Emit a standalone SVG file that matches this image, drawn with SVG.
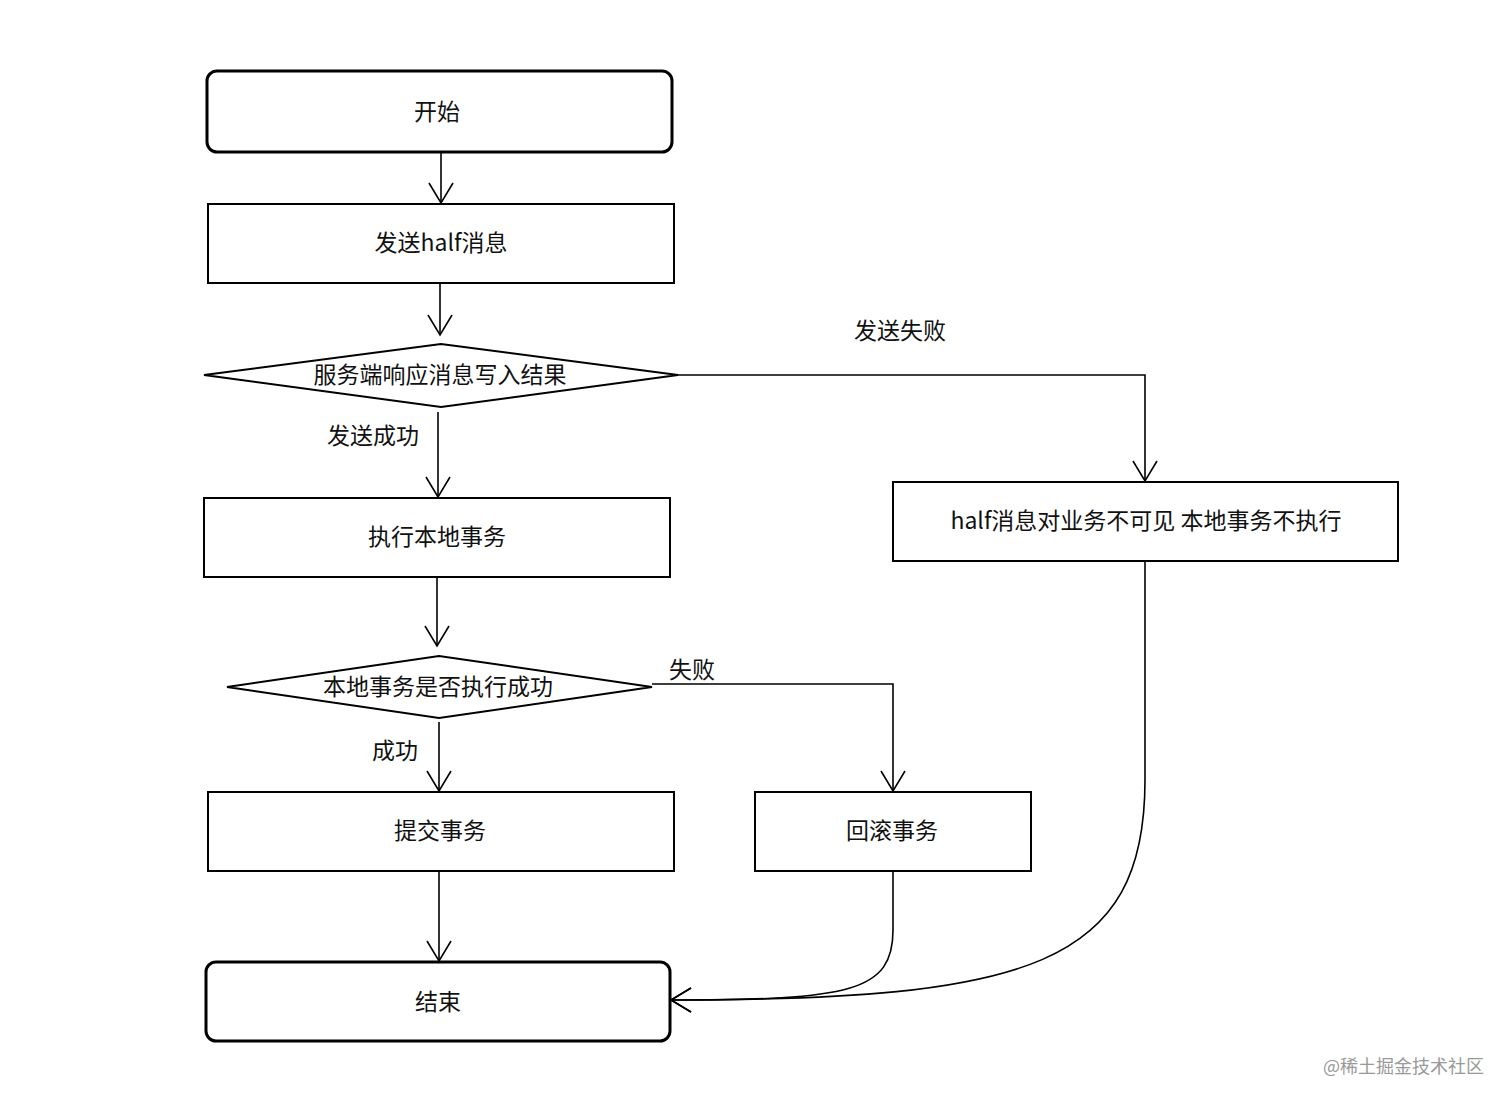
<svg xmlns="http://www.w3.org/2000/svg" width="1512" height="1103" viewBox="0 0 1512 1103">
<style>
.box{fill:#fff;stroke:#000;stroke-width:2}
.term{fill:#fff;stroke:#000;stroke-width:3}
.t{font-family:"Noto Sans CJK SC","Liberation Sans",sans-serif;font-size:23px;fill:#111;text-anchor:middle;dominant-baseline:central}
.lbl{font-family:"Noto Sans CJK SC","Liberation Sans",sans-serif;font-size:23px;fill:#111;text-anchor:middle;dominant-baseline:central}
.c{fill:none;stroke:#000;stroke-width:1.6}
.wm{font-family:"Noto Sans CJK SC",sans-serif;font-size:18px;fill:#999;dominant-baseline:central}
</style>
<defs>
<marker id="arr" markerUnits="userSpaceOnUse" markerWidth="30" markerHeight="30" viewBox="-24 -15 30 30" refX="0" refY="0" orient="auto" overflow="visible">
<path d="M-20,-12 L0,0 L-20,12" fill="none" stroke="#000" stroke-width="1.6"/>
</marker>
</defs>
<rect width="1512" height="1103" fill="#fff"/>
<g id="connectors">
<path class="c" d="M441,152 L441,203" marker-end="url(#arr)"/>
<path class="c" d="M440,283 L440,335" marker-end="url(#arr)"/>
<path class="c" d="M438,412 L438,497" marker-end="url(#arr)"/>
<path class="c" d="M678,375 L1145,375 L1145,481" marker-end="url(#arr)"/>
<path class="c" d="M437,577 L437,646" marker-end="url(#arr)"/>
<path class="c" d="M652,684 L893,684 L893,791" marker-end="url(#arr)"/>
<path class="c" d="M439,722 L439,791" marker-end="url(#arr)"/>
<path class="c" d="M439,871 L439,961" marker-end="url(#arr)"/>
<path class="c" d="M893,871 L893,930 C893,992 850,1000 671,1000" marker-end="url(#arr)"/>
<path class="c" d="M1145,561 L1145,780 C1145,965 1030,1000 671,1000" marker-end="url(#arr)"/>
<text class="lbl" x="900" y="329">发送失败</text>
<text class="lbl" x="373" y="434">发送成功</text>
<text class="lbl" x="692" y="668">失败</text>
<text class="lbl" x="395" y="749">成功</text>
</g>
<g id="start"><rect class="term" x="207" y="71" width="465" height="81" rx="10"/><text class="t" x="437" y="110">开始</text></g>
<g id="send_half"><rect class="box" x="208" y="204" width="466" height="79"/><text class="t" x="441" y="241">发送half消息</text></g>
<g id="server_resp"><polygon class="box" points="204,375 441,344 678,375 441,407"/><text class="t" x="440" y="373">服务端响应消息写入结果</text></g>
<g id="exec_local"><rect class="box" x="204" y="498" width="466" height="79"/><text class="t" x="437" y="535">执行本地事务</text></g>
<g id="half_invisible"><rect class="box" x="893" y="482" width="505" height="79"/><text class="t" x="1146" y="519">half消息对业务不可见 本地事务不执行</text></g>
<g id="local_ok"><polygon class="box" points="227,687 439,656 652,687 439,718"/><text class="t" x="438" y="685">本地事务是否执行成功</text></g>
<g id="commit"><rect class="box" x="208" y="792" width="466" height="79"/><text class="t" x="440" y="829">提交事务</text></g>
<g id="rollback"><rect class="box" x="755" y="792" width="276" height="79"/><text class="t" x="892" y="829">回滚事务</text></g>
<g id="end"><rect class="term" x="206" y="962" width="464" height="79" rx="10"/><text class="t" x="438" y="1000">结束</text></g>
<text class="wm" x="1323" y="1065">@稀土掘金技术社区</text>
</svg>
